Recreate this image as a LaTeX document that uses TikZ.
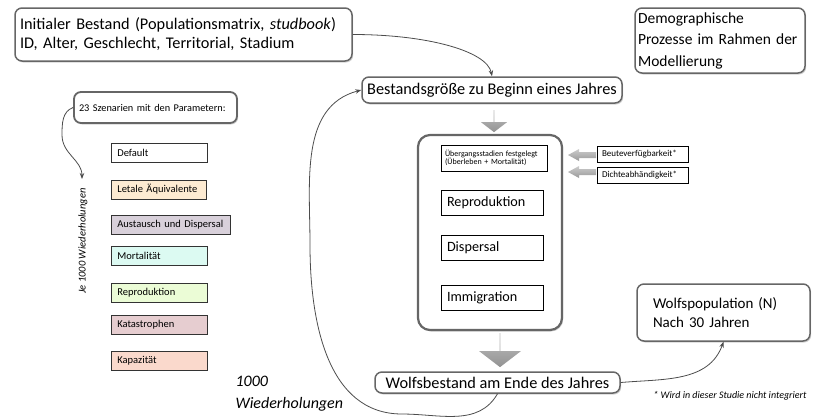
\documentclass[tikz,border=0pt]{standalone}
\usepackage{fontspec}
\setmainfont{Carlito}
\usetikzlibrary{shapes.arrows,shadows,arrows.meta}

\definecolor{letal}{RGB}{253,235,210}
\definecolor{austausch}{RGB}{216,208,218}
\definecolor{mortal}{RGB}{220,250,242}
\definecolor{repro}{RGB}{235,252,214}
\definecolor{kata}{RGB}{230,205,208}
\definecolor{kapaz}{RGB}{250,217,204}

\begin{document}
\begin{tikzpicture}[x=1pt,y=-1pt,
        font=\fontsize{16.3}{19}\selectfont]
            \tikzstyle{rb}=[draw=gray!80!black,line width=1.5pt,rounded corners=7pt,fill=white,drop shadow={opacity=0.35,shadow xshift=1.2pt,shadow yshift=-1.5pt},inner sep=0pt]
            \tikzstyle{pb}=[draw=black!80,line width=0.7pt,anchor=west,minimum height=19,inner xsep=6,inner ysep=0,text width=84,align=left,font=\fontsize{10.5}{12}\selectfont]
            \tikzstyle{ib}=[draw=black,line width=0.7pt,fill=white,inner xsep=6,inner ysep=0,text width=90,align=left,minimum height=25,font=\fontsize{14.2}{17}\selectfont]
            \tikzstyle{sb}=[draw=black,line width=0.6pt,fill=white,inner xsep=5,inner ysep=0,text width=81,align=left,minimum height=16,font=\fontsize{9}{10}\selectfont]
            \tikzstyle{ga}=[single arrow,draw=none,inner sep=0pt,single arrow tip angle=105,top color=gray!50,bottom color=gray!85]
            \tikzstyle{cn}=[draw=gray!60!black,line width=0.8pt,-{Stealth[length=6pt,width=4.5pt]}]

            \useasboundingbox (0,0) rectangle (818,416);

            \node [rb,minimum width=337,minimum height=53,text width=327,align=left] (ini) at (183.5,34.5)
              {Initialer Bestand (Populationsmatrix, \textit{studbook})\\ID, Alter, Geschlecht, Territorial, Stadium};
            \node [rb,minimum width=170,minimum height=65,text width=164,align=left,font=\fontsize{15.5}{21.5}\selectfont] (demo) at (720,40.5)
              {Demographische\\Prozesse im Rahmen der\\Modellierung};
            \node [rb,minimum width=260,minimum height=26] (bg) at (492,90) {Bestandsgröße zu Beginn eines Jahres};
            \node [rb,minimum width=245,minimum height=21] (wb) at (497.5,382.5) {Wolfsbestand am Ende des Jahres};
            \node [rb,minimum width=173,minimum height=57,text width=141,align=left,font=\fontsize{15}{19}\selectfont] (wp) at (723.5,312.5)
              {Wolfspopulation (N)\\Nach 30 Jahren};

            \node [rb,line width=2.2pt,rounded corners=12pt,minimum width=144,minimum height=195] (box) at (490,232.5) {};
            \node [ib,minimum width=106,text width=98,inner xsep=4,font=\fontsize{8}{8.5}\selectfont,minimum height=26] (ueb) at (494,158)
              {Übergangsstadien festgelegt\\(Überleben + Mortalität)};
            \node [ib] (rep) at (492,203) {Reproduktion};
            \node [ib] (dis) at (492,247.5) {Dispersal};
            \node [ib] (imm) at (492,297.5) {Immigration};

            \node [sb] (deu) at (642.5,154) {Beuteverfügbarkeit*};
            \node [sb] (dic) at (642.5,175) {Dichteabhändigkeit*};
            \foreach \y in {155,172}
              \shade[top color=gray!40,bottom color=gray!80] (568,\y) -- (579,\y-6) -- (579,\y-3) -- (596,\y-3) -- (596,\y+3) -- (579,\y+3) -- (579,\y+6) -- cycle;

            \node [ga,minimum height=22,minimum width=26,single arrow head extend=6.5,shape border rotate=270] (t1) at (494,121) {};
            \node [ga,minimum height=34,minimum width=42,single arrow head extend=11,shape border rotate=270] (t2) at (500,350) {};

            \node [rb,line width=1.8pt,minimum width=163,minimum height=31,text width=153,align=left,font=\fontsize{10.3}{12}\selectfont] (sz) at (155.5,107.5)
              {23 Szenarien mit den Parametern:};
            \node [pb,fill=white] (p1) at (111,153) {Default};
            \node [pb,fill=letal,text width=83] (p2) at (111,189.5) {Letale Äquivalente};
            \node [pb,fill=austausch,text width=107] (p3) at (111,224.5) {Austausch und Dispersal};
            \node [pb,fill=mortal] (p4) at (111,255.5) {Mortalität};
            \node [pb,fill=repro] (p5) at (111,292.5) {Reproduktion};
            \node [pb,fill=kata] (p6) at (111,325) {Katastrophen};
            \node [pb,fill=kapaz] (p7) at (111,361) {Kapazität};

            \node [rotate=90,font=\fontsize{10.5}{12}\selectfont\itshape] (je) at (83,241) {Je 1000 Wiederholungen};
            \node [anchor=west,align=left,font=\fontsize{16}{22}\selectfont\itshape] (tw) at (232,394) {1000\\Wiederholungen};
            \node [font=\fontsize{10}{12}\selectfont\itshape] (fn) at (730,396) {* Wird in dieser Studie nicht integriert};

            \coordinate (ja) at (82,179);
            \coordinate (lb) at (402,414);
            \coordinate (ll) at (310,245);

            \draw[cn] (ini.east) .. controls +(75,0) and +(-5,-25) .. (bg.north);
            \draw[cn] (wb.south) to[out=240,in=0] (lb) to[out=180,in=270] (ll) to[out=90,in=195] (bg.west);
            \draw[cn] (wb.east) to[out=5,in=250] (wp.south);
            \draw[cn] (sz.west) to[out=200,in=90] (62,135) to[out=270,in=90] (ja);
        \end{tikzpicture}
\end{document}
